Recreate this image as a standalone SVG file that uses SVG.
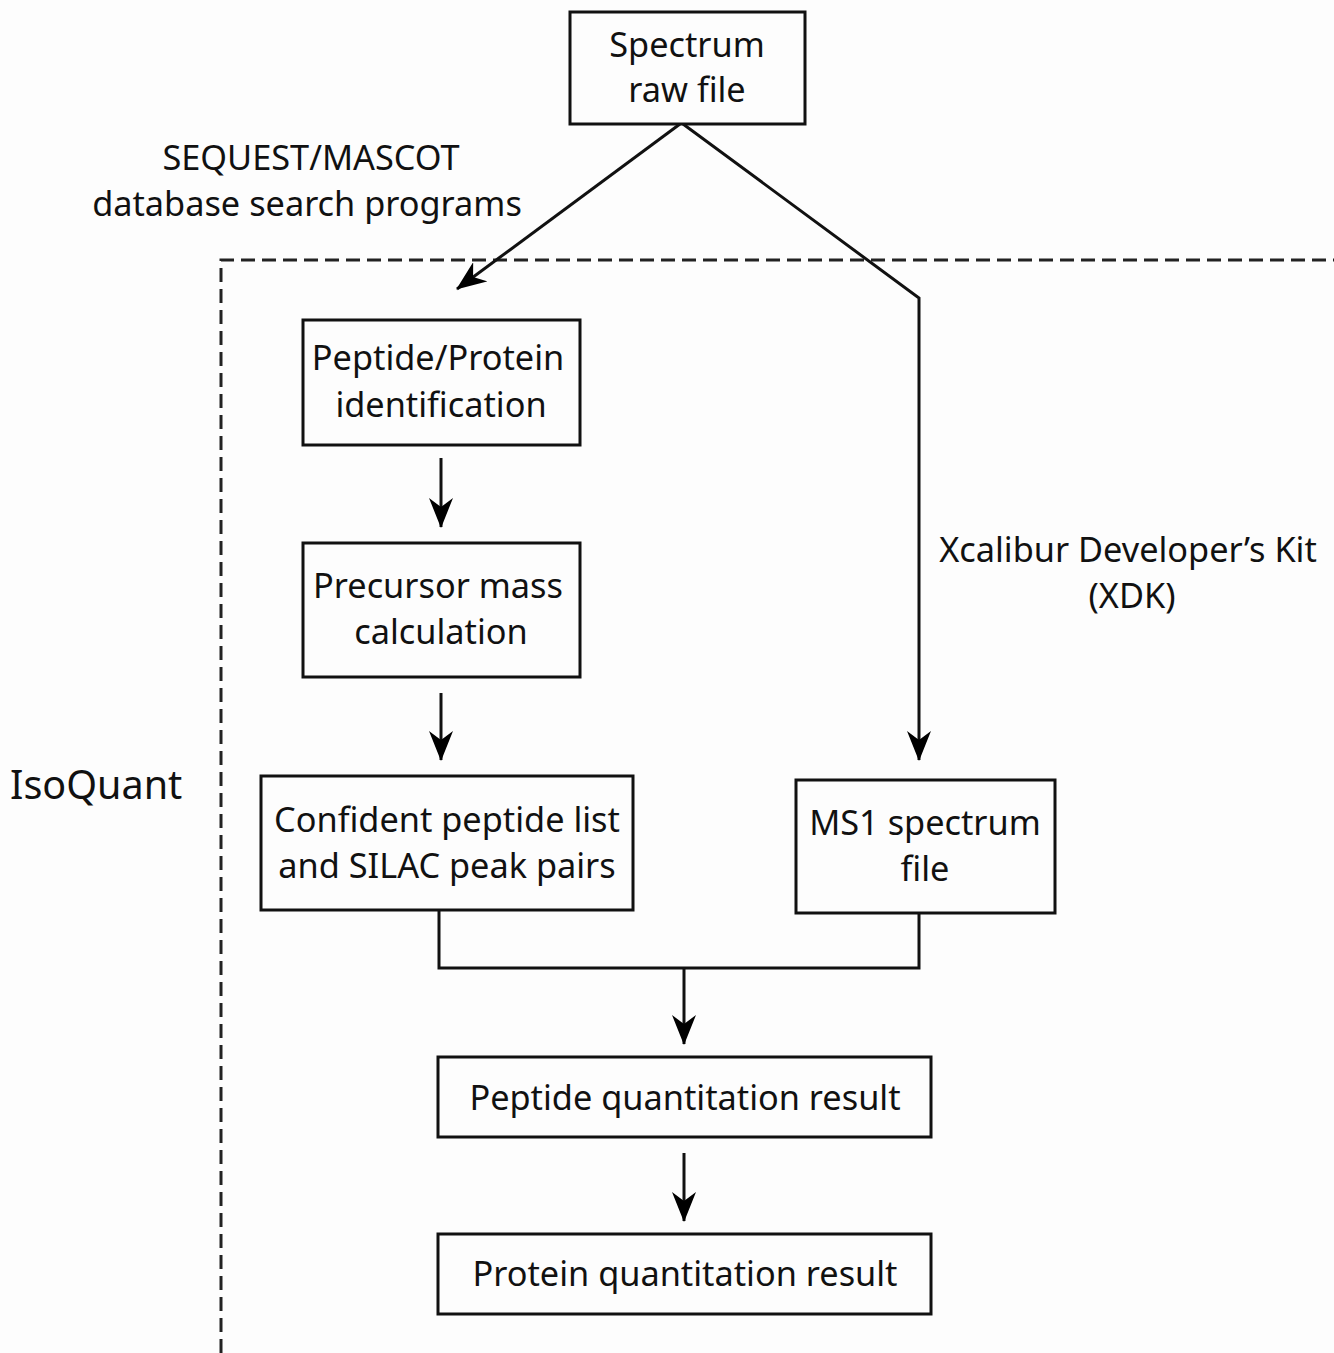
<svg xmlns="http://www.w3.org/2000/svg" width="1334" height="1353" viewBox="0 0 1334 1353">
<style>
.box{fill:#fdfdfd;stroke:#111;stroke-width:3}
.t{font-family:"Noto Sans","Open Sans",sans-serif;font-size:34.3px;fill:#111;text-anchor:middle}
.c{fill:none;stroke:#111;stroke-width:3}
</style>
<defs>
<marker id="ah" viewBox="0 0 30 24" refX="29" refY="12" markerWidth="30" markerHeight="24" markerUnits="userSpaceOnUse" orient="auto">
<path d="M0,0 L30,12 L0,24 L9,12 z" fill="#000"/>
</marker>
</defs>
<rect width="1334" height="1353" fill="#fdfdfd"/>
<g id="isoquant">
<path d="M221,1353 V260 H1334" fill="none" stroke="#222" stroke-width="3" stroke-dasharray="14,7"/>
<text x="10" y="799" style="font-family:'Noto Sans','Open Sans',sans-serif;font-size:39.5px;fill:#111">IsoQuant</text>
</g>
<g id="connectors">
<line class="c" x1="680" y1="124" x2="457" y2="289" marker-end="url(#ah)"/>
<polyline class="c" points="683,124 919,298 919,760" marker-end="url(#ah)"/>
<line class="c" x1="441" y1="458" x2="441" y2="527" marker-end="url(#ah)"/>
<line class="c" x1="441" y1="693" x2="441" y2="760" marker-end="url(#ah)"/>
<polyline class="c" points="439,910 439,968 919,968 919,913"/>
<line class="c" x1="684" y1="968" x2="684" y2="1044" marker-end="url(#ah)"/>
<line class="c" x1="684" y1="1153" x2="684" y2="1221" marker-end="url(#ah)"/>
<text class="t" x="311" y="170">SEQUEST/MASCOT</text>
<text class="t" x="307" y="216">database search programs</text>
<text class="t" x="1128" y="562">Xcalibur Developer’s Kit</text>
<text class="t" x="1132" y="608">(XDK)</text>
</g>
<g id="spectrum">
<rect class="box" x="570" y="12" width="235" height="112"/>
<text class="t" x="687" y="57">Spectrum</text>
<text class="t" x="687" y="102">raw file</text>
</g>
<g id="peptide-protein">
<rect class="box" x="303" y="320" width="277" height="125"/>
<text class="t" x="438" y="370">Peptide/Protein</text>
<text class="t" x="441" y="417">identification</text>
</g>
<g id="precursor">
<rect class="box" x="303" y="543" width="277" height="134"/>
<text class="t" x="438" y="598">Precursor mass</text>
<text class="t" x="441" y="644">calculation</text>
</g>
<g id="confident">
<rect class="box" x="261" y="776" width="372" height="134"/>
<text class="t" x="447" y="832">Confident peptide list</text>
<text class="t" x="447" y="878">and SILAC peak pairs</text>
</g>
<g id="ms1">
<rect class="box" x="796" y="780" width="259" height="133"/>
<text class="t" x="925" y="835">MS1 spectrum</text>
<text class="t" x="925" y="881">file</text>
</g>
<g id="peptide-quant">
<rect class="box" x="438" y="1057" width="493" height="80"/>
<text class="t" x="685" y="1110">Peptide quantitation result</text>
</g>
<g id="protein-quant">
<rect class="box" x="438" y="1234" width="493" height="80"/>
<text class="t" x="685" y="1286">Protein quantitation result</text>
</g>
</svg>
